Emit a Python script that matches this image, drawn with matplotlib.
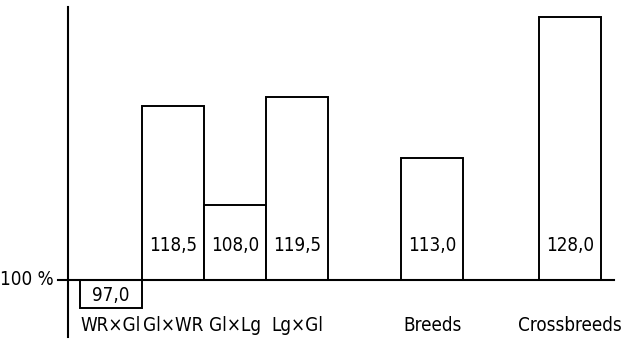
import matplotlib
matplotlib.use("Agg")
import matplotlib.pyplot as plt

# data
categories = ["WR×Gl", "Gl×WR", "Gl×Lg", "Lg×Gl", "Breeds", "Crossbreeds"]
values = [97.0, 118.5, 108.0, 119.5, 113.0, 128.0]
value_labels = ["97,0", "118,5", "108,0", "119,5", "113,0", "128,0"]
positions = [0, 1, 2, 3, 5.18, 7.4]

# condensed font, close to the technical lettering of the original
plt.rcParams['font.family'] = ['DejaVu Sans']
plt.rcParams['font.stretch'] = 'condensed'

fig = plt.figure(figsize=(6.23, 3.39), dpi=100)
ax = fig.add_axes([0, 0, 1, 1])

base = 100
heights = [v - base for v in values]
ax.bar(positions, heights, width=1.0, bottom=base, color='white',
       edgecolor='black', linewidth=1.4, zorder=2)

# axis lines drawn by hand
ax.plot([-0.694, -0.694], [93.94, 129.04], color='black', lw=1.5, zorder=3)
ax.plot([-0.855, 8.11], [base, base], color='black', lw=1.5, zorder=3)
ax.text(-0.93, base, "100 %", ha='right', va='center', fontsize=13.5)

for x, v, lab, cat in zip(positions, values, value_labels, categories):
    ty = 103.72 if v >= base else 98.4
    ax.text(x, ty, lab, ha='center', va='center', fontsize=13.5)
    ax.text(x, 95.2, cat, ha='center', va='center', fontsize=13.5)

ax.set_xlim(-1.79, 8.258)
ax.set_ylim(93.72, 129.79)
ax.axis('off')

plt.savefig('out.png', dpi=100)
